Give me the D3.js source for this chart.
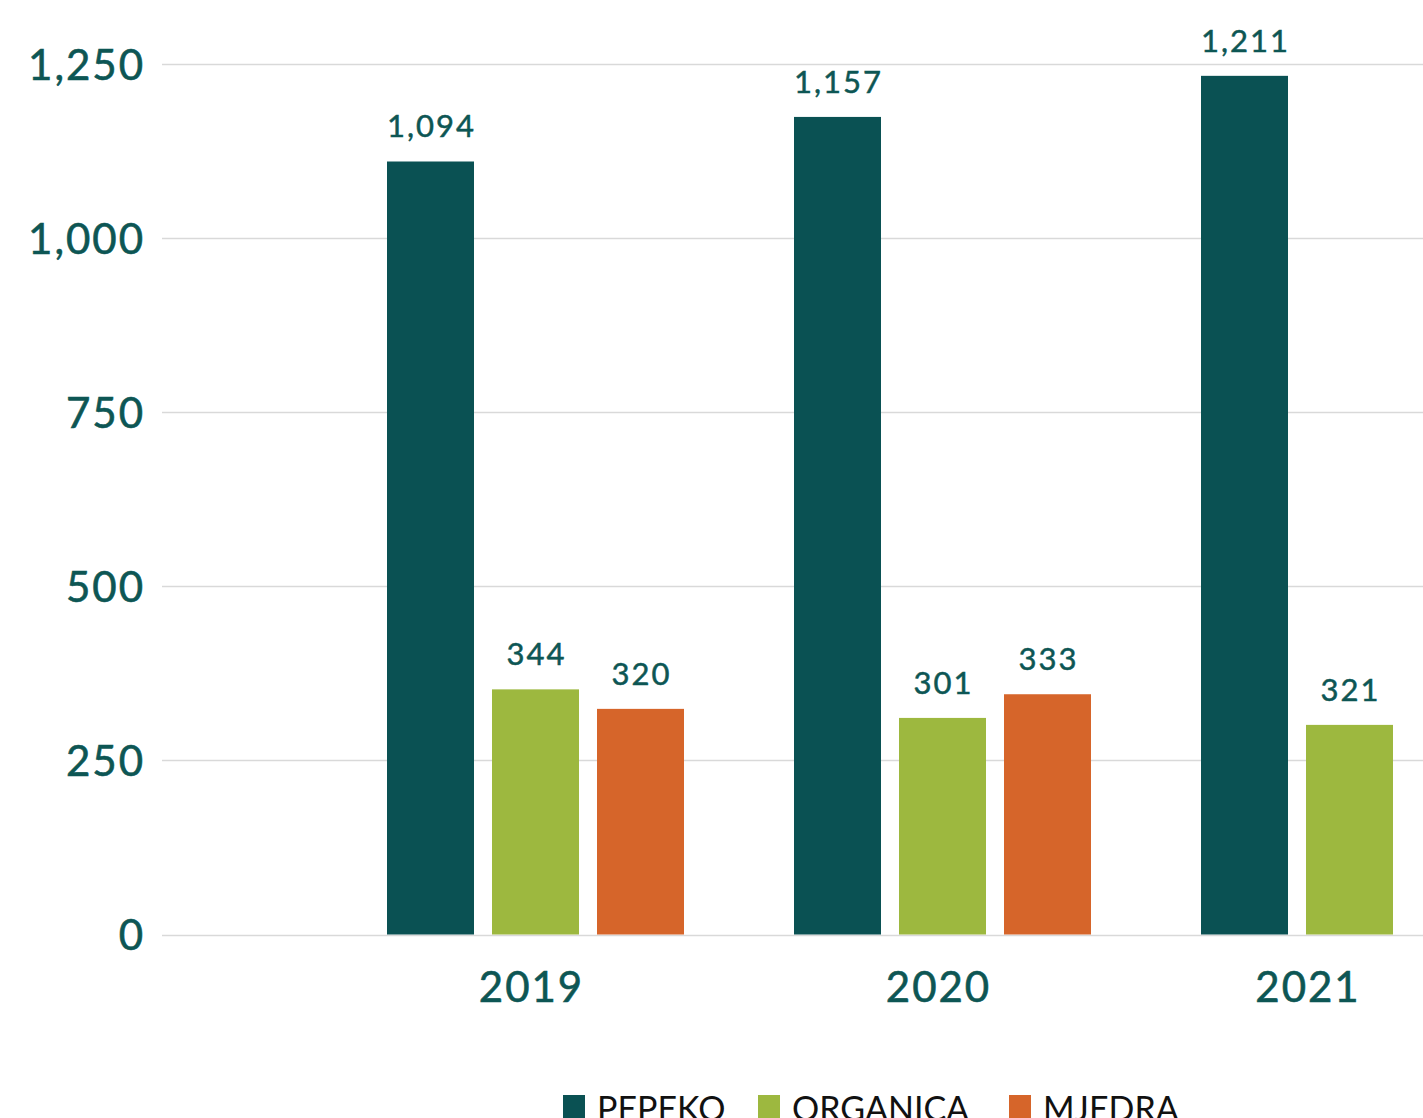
<!DOCTYPE html>
<html>
<head>
<meta charset="utf-8">
<script src="https://cdn.jsdelivr.net/npm/d3@7"></script>
<style>
  html, body { margin: 0; padding: 0; background: #fff; overflow: hidden; }
  svg { display: block; }
</style>
</head>
<body>
<svg id="chart" width="1423" height="1118"></svg>
<script>
// ---- data ----
const years = ["2019", "2020", "2021"];
const series = ["PEPEKO", "ORGANICA", "MJEDRA"];
// bar heights as drawn in the picture
const pepekoValues   = [1110, 1174, 1233];
const organicaValues = [352, 311, 301];
const mjedraValues   = [324, 345, null];
// numbers printed above the bars
const pepekoLabels   = ["1,094", "1,157", "1,211"];
const organicaLabels = ["344", "301", "321"];
const mjedraLabels   = ["320", "333", null];
const yTicks = [0, 250, 500, 750, 1000, 1250];
const colors = ["#0a5153", "#9db83f", "#d6652a"];

const valuesBySeries = [pepekoValues, organicaValues, mjedraValues];
const labelsBySeries = [pepekoLabels, organicaLabels, mjedraLabels];

const W = 1423, H = 1118;
const svg = d3.select("#chart");
const FONT = "Lato, 'Open Sans', sans-serif";
const TEXT = "#0d5654";

const y = d3.scaleLinear().domain([0, 1250]).range([934.5, 64]);
const x0 = d3.scaleBand().domain(years).range([332, 332 + 3 * 407]).paddingInner(0).paddingOuter(0);
const x1 = d3.scaleBand().domain(series).range([55, 352]).paddingInner(18 / 105).paddingOuter(0);

// gridlines
svg.append("g").selectAll("line").data(yTicks).join("line")
  .attr("x1", 162).attr("x2", W)
  .attr("y1", d => Math.round(y(d)) + 0.5).attr("y2", d => Math.round(y(d)) + 0.5)
  .attr("stroke", "#d9d9d9").attr("stroke-width", 1.5);

// y labels
const yAxis = d3.axisLeft(y).tickValues(yTicks).tickSize(0).tickFormat(d3.format(","));
const gy = svg.append("g").attr("transform", "translate(145,0)").call(yAxis);
gy.select(".domain").remove();
gy.selectAll("text")
  .attr("x", 0).attr("dy", "0.36em")
  .style("font-family", FONT).style("font-size", "42px").style("fill", TEXT)
  .style("letter-spacing", "2px")
  .style("stroke", TEXT).style("stroke-width", "0.6px");

// bars
const rows = [];
years.forEach((yr, i) => series.forEach((s, j) => {
  const v = valuesBySeries[j][i];
  if (v != null) rows.push({ year: yr, series: s, value: v, label: labelsBySeries[j][i], color: colors[j] });
}));

const g = svg.append("g");
g.selectAll("rect").data(rows).join("rect")
  .attr("x", d => x0(d.year) + x1(d.series))
  .attr("y", d => y(d.value))
  .attr("width", x1.bandwidth())
  .attr("height", d => y(0) - y(d.value))
  .attr("fill", d => d.color);

g.selectAll("text").data(rows).join("text")
  .attr("x", d => x0(d.year) + x1(d.series) + x1.bandwidth() / 2 + 1)
  .attr("y", d => y(d.value) - 24)
  .attr("text-anchor", "middle")
  .style("font-family", FONT).style("font-size", "31px").style("fill", TEXT)
  .style("letter-spacing", "2px")
  .style("stroke", TEXT).style("stroke-width", "0.5px")
  .text(d => d.label);

// x labels (centered on visible part of group)
svg.append("g").selectAll("text").data(years).join("text")
  .attr("x", d => {
    const left = x0(d) + x1(series[0]);
    const right = Math.min(W, x0(d) + x1(series[2]) + x1.bandwidth());
    return (left + right) / 2 - 4;
  })
  .attr("y", 1002)
  .attr("text-anchor", "middle")
  .style("font-family", FONT).style("font-size", "42px").style("fill", TEXT)
  .style("letter-spacing", "2px")
  .style("stroke", TEXT).style("stroke-width", "0.6px")
  .text(d => d);

// legend
const legendX = [563, 758, 1009];
const lg = svg.append("g").selectAll("g").data(series).join("g")
  .attr("transform", (d, i) => `translate(${legendX[i]},1095)`);
lg.append("rect").attr("width", 22).attr("height", 23).attr("fill", (d, i) => colors[i]);
lg.append("text").attr("x", 34).attr("y", 26)
  .style("font-family", FONT).style("font-size", "34px").style("fill", "#111")
  .text(d => d);
</script>
</body>
</html>
